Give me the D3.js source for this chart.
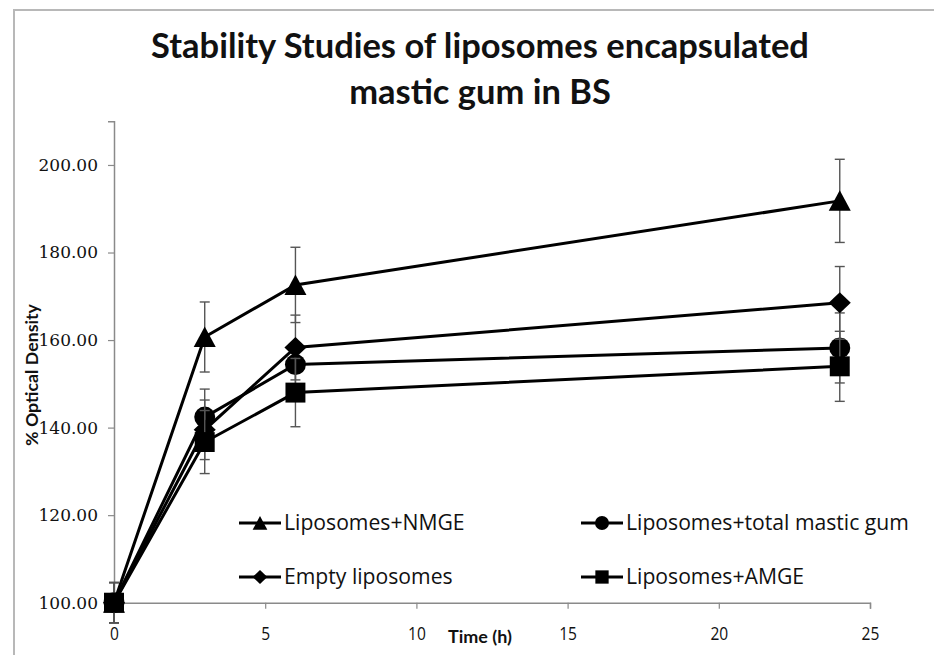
<!DOCTYPE html>
<html>
<head>
<meta charset="utf-8">
<script src="https://cdn.jsdelivr.net/npm/d3@7"></script>
<style>
  html, body { margin: 0; padding: 0; background: #fff; }
  svg { display: block; }
</style>
</head>
<body>
<script>
// ---- data ----
const times = [0, 3, 6, 24];
const seriesNames = ["Liposomes+NMGE", "Liposomes+total mastic gum", "Empty liposomes", "Liposomes+AMGE"];
const seriesMarkers = ["triangle", "circle", "diamond", "square"];
const nmgeValues = [100, 160.7, 172.6, 191.8];
const nmgeErrors = [4.6, 8.0, 8.6, 9.5];
const totalGumValues = [100, 142.4, 154.4, 158.2];
const totalGumErrors = [4.6, 6.4, 5.0, 8.0];
const emptyValues = [100, 139.5, 158.3, 168.5];
const emptyErrors = [4.6, 6.8, 7.4, 8.3];
const amgeValues = [100, 136.7, 148.0, 154.0];
const amgeErrors = [4.6, 7.2, 7.8, 8.0];
const yTicks = [100, 120, 140, 160, 180, 200];
const xTicks = [0, 5, 10, 15, 20, 25];
const titleLines = ["Stability Studies of liposomes encapsulated", "mastic gum in BS"];
const xTitle = "Time (h)";
const yTitle = "% Optical Density";

const seriesValues = [nmgeValues, totalGumValues, emptyValues, amgeValues];
const seriesErrors = [nmgeErrors, totalGumErrors, emptyErrors, amgeErrors];

const W = 934, H = 655;
const svg = d3.select("body").append("svg").attr("width", W).attr("height", H);
svg.append("rect").attr("width", W).attr("height", H).attr("fill", "#fff");

// frame (top & left visible)
svg.append("path").attr("d", `M14,${H+5} L14,10 L${W+5},10`)
  .attr("fill", "none").attr("stroke", "#b8b8b8").attr("stroke-width", 2);

const x = d3.scaleLinear().domain([0, 25]).range([114, 870]);
const y = d3.scaleLinear().domain([100, 210]).range([602.7, 121.2]);

// title
const sansBold = "Lato, 'Open Sans', sans-serif";
function fitText(sel, target) {
  const len = sel.node().getComputedTextLength();
  const fs = parseFloat(sel.attr("font-size"));
  sel.attr("font-size", fs * target / len);
}
const t1 = svg.append("text").attr("x", 480).attr("y", 58).attr("text-anchor", "middle")
  .attr("font-family", sansBold).attr("font-weight", "bold").attr("font-size", 30)
  .attr("fill", "#111").text(titleLines[0]);
fitText(t1, 658);
const t2 = svg.append("text").attr("x", 480).attr("y", 104).attr("text-anchor", "middle")
  .attr("font-family", sansBold).attr("font-weight", "bold").attr("font-size", t1.attr("font-size"))
  .attr("fill", "#111").text(titleLines[1]);

// axes
const gx = svg.append("g").attr("transform", `translate(0,${y(100)})`)
  .call(d3.axisBottom(x).tickValues(xTicks).tickSize(6).tickPadding(18).tickFormat(d3.format("d")));
gx.select(".domain").attr("stroke", "#8a8a8a").attr("stroke-width", 1.5);
gx.selectAll(".tick line").attr("stroke", "#8a8a8a").attr("stroke-width", 1.2);
gx.selectAll(".tick text").attr("font-family", "'Open Sans', Lato, sans-serif")
  .attr("font-size", 19).attr("fill", "#111").attr("transform", "scale(0.82,1)");

const gy = svg.append("g").attr("transform", `translate(${x(0)},0)`)
  .call(d3.axisLeft(y).tickValues(yTicks).tickSize(6).tickPadding(10).tickFormat(d3.format(".2f")));
gy.select(".domain").attr("stroke", "#8a8a8a").attr("stroke-width", 1.5);
gy.selectAll(".tick line").attr("stroke", "#8a8a8a").attr("stroke-width", 1.2);
gy.selectAll(".tick text").attr("font-family", "'DejaVu Serif', serif")
  .attr("font-size", 17).attr("fill", "#111");

// axis titles
const xt = svg.append("text").attr("x", 480).attr("y", 643).attr("text-anchor", "middle")
  .attr("font-family", sansBold).attr("font-weight", "bold").attr("font-size", 15)
  .attr("fill", "#111").text(xTitle);
fitText(xt, 64);
const yt = svg.append("text").attr("transform", "translate(38,375) rotate(-90)").attr("text-anchor", "middle")
  .attr("font-family", sansBold).attr("font-weight", "bold").attr("font-size", 15)
  .attr("fill", "#111").text(yTitle);
fitText(yt, 142);

// markers
function markerPath(type, r) {
  switch (type) {
    case "triangle": return `M0,${-r} L${r*1.05},${r*0.95} L${-r*1.05},${r*0.95} Z`;
    case "diamond": return `M0,${-r} L${r*1.05},0 L0,${r} L${-r*1.05},0 Z`;
    case "square": return `M${-r*0.95},${-r*0.95} H${r*0.95} V${r*0.95} H${-r*0.95} Z`;
    default: return d3.arc()({innerRadius: 0, outerRadius: r, startAngle: 0, endAngle: 2*Math.PI});
  }
}

const line = d3.line().x(d => x(d[0])).y(d => y(d[1]));
const plot = svg.append("g");

seriesValues.forEach((vals, si) => {
  const g = plot.append("g");
  const errs = seriesErrors[si];
  // error bars
  times.forEach((t, i) => {
    const cx = x(t), top = y(vals[i] + errs[i]), bot = y(vals[i] - errs[i]);
    g.append("line").attr("x1", cx).attr("x2", cx).attr("y1", top).attr("y2", bot)
      .attr("stroke", "#555").attr("stroke-width", 1.4);
    [top, bot].forEach(yy => g.append("line").attr("x1", cx - 5).attr("x2", cx + 5)
      .attr("y1", yy).attr("y2", yy).attr("stroke", "#555").attr("stroke-width", 1.4));
  });
  g.append("path").datum(times.map((t, i) => [t, vals[i]])).attr("d", line)
    .attr("fill", "none").attr("stroke", "#000").attr("stroke-width", 3);
  times.forEach((t, i) => {
    g.append("path").attr("d", markerPath(seriesMarkers[si], 10.5))
      .attr("transform", `translate(${x(t)},${y(vals[i])})`).attr("fill", "#000");
  });
});

// legend
const legendPos = [[239, 523], [581, 523], [239, 577], [581, 577]];
const legTexts = [];
seriesNames.forEach((name, i) => {
  const [lx, ly] = legendPos[i];
  const g = svg.append("g").attr("transform", `translate(${lx},${ly})`);
  g.append("line").attr("x1", 0).attr("x2", 42).attr("y1", 0).attr("y2", 0)
    .attr("stroke", "#000").attr("stroke-width", 3);
  g.append("path").attr("d", markerPath(seriesMarkers[i], 7)).attr("transform", "translate(21,0)")
    .attr("fill", "#000");
  legTexts.push(g.append("text").attr("x", 45).attr("y", 7).attr("font-family", "'Open Sans', Lato, sans-serif")
    .attr("font-size", 19).attr("fill", "#111").text(name));
});
// fit legend font so the longest label spans its measured width
const longest = legTexts[1];
const len = longest.node().getComputedTextLength();
const fs = 19 * 283 / len;
legTexts.forEach(t => t.attr("font-size", fs));
</script>
</body>
</html>
